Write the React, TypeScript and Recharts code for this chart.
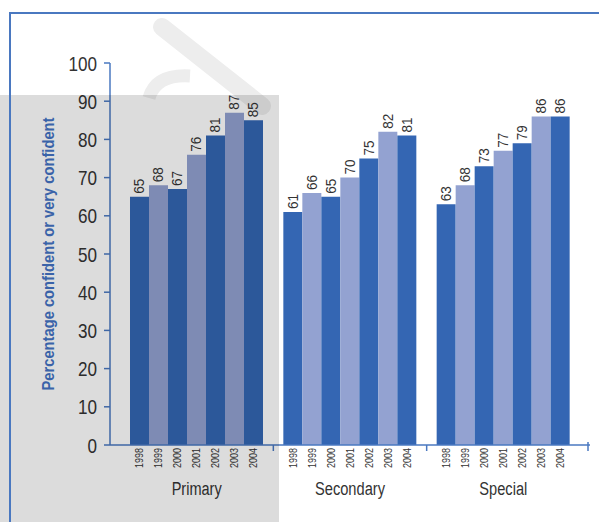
import React from "react";
import { BarChart, Bar, XAxis, YAxis, LabelList } from "recharts";

const groups = ["Primary", "Secondary", "Special"];
const years = ["1998", "1999", "2000", "2001", "2002", "2003", "2004"];
const primary = [65, 68, 67, 76, 81, 87, 85];
const secondary = [61, 66, 65, 70, 75, 82, 81];
const special = [63, 68, 73, 77, 79, 86, 86];
const yTicks = [0, 10, 20, 30, 40, 50, 60, 70, 80, 90, 100];
const yLabel = "Percentage confident or very confident";

const series = [primary, secondary, special];
const data = groups.map((group, gi) => {
  const row: Record<string, string | number> = { group };
  years.forEach((yr, i) => {
    row[yr] = series[gi][i];
  });
  return row;
});

const W = 599;
const H = 522;
const DARK = "#3466b3";
const LIGHT = "#93a2d1";
const AXIS = "#4a78c0";
const TEXT = "#333";
const FONT = "'Liberation Sans', Arial, sans-serif";
const BAR = 19;
const PAD = 10;
// plot area 110..590, padded by PAD on both sides, 3 bands
const BAND = (W - 110 - 9 - PAD * 2) / groups.length;
// the original uses a condensed face; squeeze regular text to its widths
const groupWidths: Record<string, number> = { Primary: 50, Secondary: 70, Special: 48 };

const renderValue = (props: any) => {
  const { x, y, width, value } = props;
  const cx = Number(x) + Number(width) / 2;
  const ty = Number(y) - 3;
  return (
    <text
      x={cx}
      y={ty}
      dy="0.35em"
      transform={`rotate(-90, ${cx}, ${ty})`}
      textAnchor="start"
      fontSize={14}
      fontFamily={FONT}
      fill={TEXT}
      textLength={15}
      lengthAdjust="spacingAndGlyphs"
    >
      {value}
    </text>
  );
};

const renderXTick = (props: any) => {
  const { x, y, payload, index } = props;
  const start = x - (BAR * years.length) / 2;
  return (
    <g>
      {years.map((yr, i) => {
        const cx = start + BAR * i + BAR / 2;
        const ty = y + 3;
        return (
          <text
            key={yr}
            x={cx}
            y={ty}
            dy="0.35em"
            transform={`rotate(-90, ${cx}, ${ty})`}
            textAnchor="end"
            fontSize={10}
            fontFamily={FONT}
            fill={TEXT}
            textLength={20}
            lengthAdjust="spacingAndGlyphs"
          >
            {yr}
          </text>
        );
      })}
      <text
        x={x}
        y={y + 50}
        textAnchor="middle"
        fontSize={18}
        fontFamily={FONT}
        fill={TEXT}
        textLength={groupWidths[payload.value]}
        lengthAdjust="spacingAndGlyphs"
      >
        {payload.value}
      </text>
      {index > 0 && (
        <line x1={x - BAND / 2} x2={x - BAND / 2} y1={y} y2={y + 6} stroke={AXIS} strokeWidth={1.5} />
      )}
      {index === groups.length - 1 && (
        <line x1={x + BAND / 2 + PAD - 2} x2={x + BAND / 2 + PAD - 2} y1={y - 3} y2={y + 6} stroke={AXIS} strokeWidth={1.5} />
      )}
    </g>
  );
};

const renderYTick = (props: any) => {
  const { x, y, payload } = props;
  const s = String(payload.value);
  return (
    <text
      x={x}
      y={y}
      dy="0.36em"
      textAnchor="end"
      fontSize={21}
      fontFamily={FONT}
      fill={TEXT}
      textLength={9.5 * s.length}
      lengthAdjust="spacingAndGlyphs"
    >
      {s}
    </text>
  );
};

const renderYLabel = (props: any) => {
  const { viewBox } = props;
  const cx = 48;
  const cy = viewBox.y + viewBox.height / 2;
  return (
    <text
      x={cx}
      y={cy}
      dy="0.35em"
      transform={`rotate(-90, ${cx}, ${cy})`}
      textAnchor="middle"
      fontSize={16.5}
      fontWeight="bold"
      fontFamily={FONT}
      fill="#4473c4"
      textLength={273}
      lengthAdjust="spacingAndGlyphs"
    >
      {yLabel}
    </text>
  );
};

export default function App() {
  return (
    <div style={{ position: "absolute", left: 0, top: 0, width: W, height: H, background: "#fff", overflow: "hidden" }}>
      <svg width={W} height={H} style={{ position: "absolute", left: 0, top: 0 }}>
        <line x1={162} y1={27} x2={262} y2={106} stroke="#ededed" strokeWidth={18} strokeLinecap="round" />
        <path d="M149,98 Q156,74 190,76" stroke="#ededed" strokeWidth={13} fill="none" />
      </svg>
      <div style={{ position: "absolute", left: 0, top: 0 }}>
        <BarChart
          width={W}
          height={H}
          data={data}
          barGap={0}
          margin={{ top: 63, right: 9, left: 0, bottom: 0 }}
        >
          <XAxis
            dataKey="group"
            height={77}
            padding={{ left: PAD, right: PAD }}
            tickLine={false}
            tickSize={0}
            tickMargin={0}
            axisLine={{ stroke: AXIS, strokeWidth: 1.5 }}
            tick={renderXTick}
            interval={0}
          />
          <YAxis
            width={110}
            domain={[0, 100]}
            ticks={yTicks}
            interval={0}
            tickSize={6}
            tickMargin={7}
            axisLine={{ stroke: AXIS, strokeWidth: 1.5 }}
            tickLine={{ stroke: AXIS, strokeWidth: 1.5 }}
            tick={renderYTick}
            label={renderYLabel}
          />
          {years.map((yr, i) => (
            <Bar
              key={yr}
              dataKey={yr}
              fill={i % 2 === 0 ? DARK : LIGHT}
              barSize={BAR}
              isAnimationActive={false}
            >
              <LabelList dataKey={yr} content={renderValue} />
            </Bar>
          ))}
        </BarChart>
      </div>
      <div
        style={{
          position: "absolute",
          left: 0,
          top: 95,
          width: 279,
          height: H - 95,
          background: "rgba(0,0,0,0.137)",
          pointerEvents: "none",
        }}
      />
      <div
        style={{
          position: "absolute",
          left: 9,
          top: 12,
          width: W - 9,
          height: H - 12,
          borderLeft: `2px solid ${AXIS}`,
          borderTop: `2px solid ${AXIS}`,
          boxSizing: "border-box",
          pointerEvents: "none",
        }}
      />
    </div>
  );
}
